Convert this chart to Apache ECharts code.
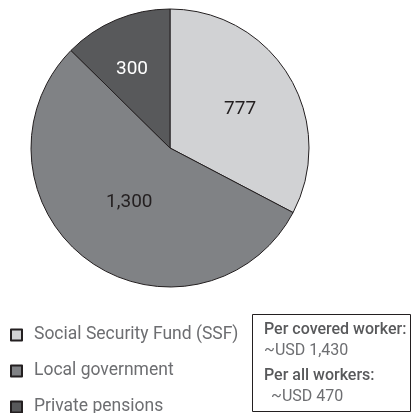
<!DOCTYPE html>
<html>
<head>
<meta charset="utf-8">
<script src="https://cdn.jsdelivr.net/npm/echarts@6/dist/echarts.min.js"></script>
<style>
html,body{margin:0;padding:0;background:#fff;}
#chart{width:412px;height:413px;}
</style>
</head>
<body>
<div id="chart"></div>
<script>
var categories = ['Social Security Fund (SSF)', 'Local government', 'Private pensions'];
var values = [777, 1300, 300];
var valueLabels = ['777', '1,300', '300'];
var boxLines = ['Per covered worker:', '~USD 1,430', 'Per all workers:', '~USD 470'];

var colors = ['#d1d2d4', '#808285', '#58595b'];
var labelColors = ['#231f20', '#231f20', '#ffffff'];
var labelOffsets = [[8, -1], [2, -4], [-10, -12]];
var legendTops = [321, 357, 393];

var chart = echarts.init(document.getElementById('chart'), null, {renderer: 'canvas'});
var font = 'Roboto, "Liberation Sans", sans-serif';

var data = categories.map(function (c, i) {
  return {
    name: c,
    value: values[i],
    itemStyle: {color: colors[i]},
    label: {color: labelColors[i], offset: labelOffsets[i], formatter: valueLabels[i]}
  };
});

var legends = categories.map(function (c, i) {
  return {
    orient: 'vertical',
    left: 5,
    top: legendTops[i],
    itemWidth: 11,
    itemHeight: 11,
    icon: 'rect',
    selectedMode: false,
    textStyle: {fontFamily: font, fontSize: 17.5, color: '#6d6e71', padding: [0, 0, 0, 7]},
    data: [c]
  };
});

chart.setOption({
  animation: false,
  legend: legends,
  series: [{
    type: 'pie',
    center: [170, 148],
    radius: [0, 139],
    startAngle: 90,
    clockwise: true,
    data: data,
    itemStyle: {borderColor: '#231f20', borderWidth: 1},
    label: {show: true, position: 'inside', fontFamily: font, fontSize: 19},
    labelLine: {show: false},
    emphasis: {disabled: true}
  }],
  graphic: [
    {type: 'rect', shape: {x: 252.5, y: 314.5, width: 158, height: 97}, style: {fill: '#fff', stroke: '#231f20', lineWidth: 1}},
    {type: 'text', x: 264, y: 330, style: {text: boxLines[0], fontFamily: font, fontSize: 16, fontWeight: 500, fill: '#58595b', verticalAlign: 'middle'}},
    {type: 'text', x: 264, y: 351, style: {text: boxLines[1], fontFamily: font, fontSize: 16, fill: '#6d6e71', verticalAlign: 'middle'}},
    {type: 'text', x: 264, y: 376, style: {text: boxLines[2], fontFamily: font, fontSize: 16, fontWeight: 500, fill: '#58595b', verticalAlign: 'middle'}},
    {type: 'text', x: 271, y: 397, style: {text: boxLines[3], fontFamily: font, fontSize: 16, fill: '#6d6e71', verticalAlign: 'middle'}}
  ]
});
</script>
</body>
</html>
